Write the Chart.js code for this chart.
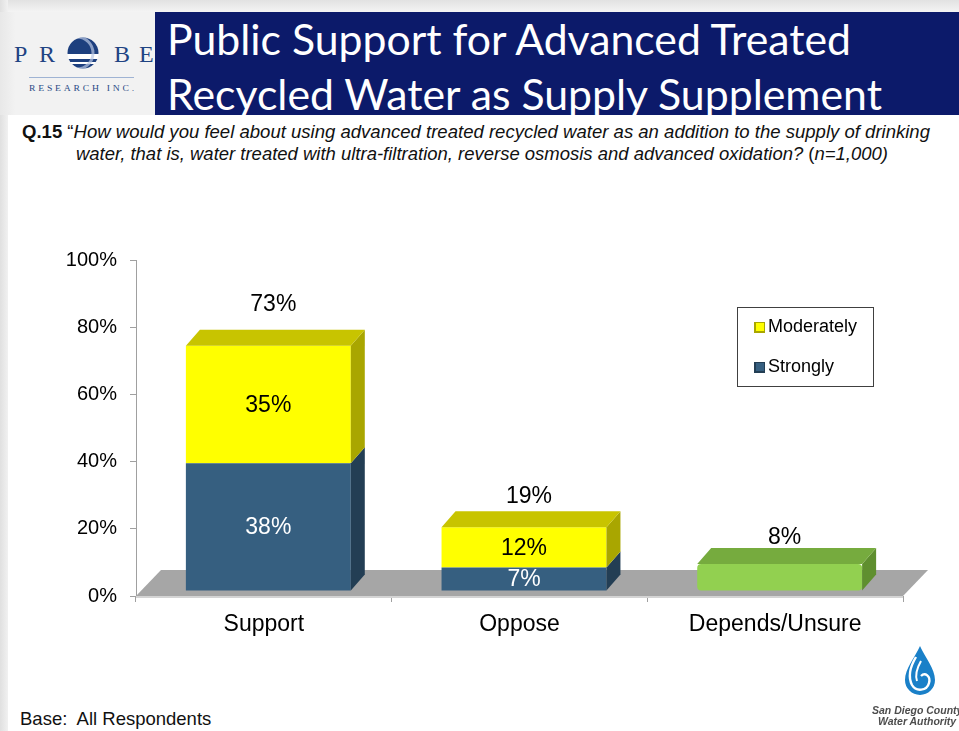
<!DOCTYPE html>
<html>
<head>
<meta charset="utf-8">
<title>Public Support for Advanced Treated Recycled Water</title>
<script src="https://cdn.jsdelivr.net/npm/chart.js@4.4.1/dist/chart.umd.min.js"></script>
<style>
  body { margin: 0; background: #fff; }
  #page { position: relative; width: 959px; height: 731px; overflow: hidden; background: #fff; font-family: "Liberation Sans", Arial, sans-serif; }
  .abs { position: absolute; white-space: nowrap; }
  #topShade { left: 0; top: 0; width: 959px; height: 12px; background: linear-gradient(#e2e2e2, #f4f4f4); }
  #leftShade { left: 0; top: 0; width: 8px; height: 731px; background: linear-gradient(to right, #e0e0e0, #f1f1f1); }
  #logoBox { left: 0; top: 12px; width: 155px; height: 103px; background: linear-gradient(to right, #e8e8e8, #f2f2f2 10%); }
  #titleBar { left: 155px; top: 12px; width: 804px; height: 103px; background: #0c1a6a; }
  .title { font-family: Lato, "Open Sans", sans-serif; font-size: 42px; line-height: 50px; color: #fff; transform-origin: 0 0; }
  .probe { font-family: "Liberation Serif", serif; font-size: 24px; line-height: 24px; color: #1f4483; }
  .q { font-size: 19px; line-height: 21px; color: #111; transform-origin: 0 0; }
  .sd { font-size: 10.5px; font-weight: bold; font-style: italic; color: #4d4d4d; line-height: 11px; }
</style>
</head>
<body>
<div id="page">
  <div class="abs" id="topShade"></div>
  <div class="abs" id="leftShade"></div>
  <div class="abs" id="logoBox"></div>
  <div class="abs" id="titleBar"></div>

  <!-- probe logo -->
  <div class="abs probe" style="left:14px;top:42px">P</div>
  <div class="abs probe" style="left:39px;top:42px">R</div>
  <div class="abs probe" style="left:114px;top:42px">B</div>
  <div class="abs probe" style="left:139px;top:42px">E</div>
  <svg class="abs" style="left:67px;top:37px" width="33" height="33" viewBox="0 0 33 33">
    <defs><clipPath id="cc"><circle cx="16" cy="16" r="15.5"/></clipPath></defs>
    <g clip-path="url(#cc)">
      <rect x="0" y="0" width="33" height="33" fill="#ffffff"/>
      <rect x="0" y="0" width="33" height="17" fill="#1d3f7e"/>
      <rect x="0" y="22" width="33" height="3" fill="#1d3f7e"/>
      <rect x="0" y="27" width="33" height="7" fill="#1d3f7e"/>
      <circle cx="10" cy="16" r="16" fill="none" stroke="#b9c8e4" stroke-width="3" opacity="0.7"/>
    </g>
  </svg>
  <div class="abs" style="left:29px;top:77px;width:105px;height:1px;background:#9fb3d3"></div>
  <div class="abs" id="probeSub" style="left:29px;top:83px;font-family:'Liberation Serif',serif;font-size:9px;letter-spacing:2.6px;color:#2a4a85;transform-origin:0 0">RESEARCH INC.</div>

  <!-- title -->
  <div class="abs title" id="t1" style="left:167px;top:14px">Public Support for Advanced Treated</div>
  <div class="abs title" id="t2" style="left:167px;top:69px">Recycled Water as Supply Supplement</div>

  <!-- question -->
  <div class="abs q" id="q1" style="left:22px;top:121px"><b>Q.15</b> “<i>How would you feel about using advanced treated recycled water as an addition to the supply of drinking</i></div>
  <div class="abs q" id="q2" style="left:76px;top:143px"><i>water, that is, water treated with ultra-filtration, reverse osmosis and advanced oxidation?</i> (<i>n=1,000)</i></div>

  <!-- chart -->
  <div class="abs" style="left:0;top:180px;width:959px;height:500px">
    <canvas id="myChart" width="959" height="500"></canvas>
  </div>

  <!-- footer -->
  <div class="abs" id="base" style="left:20px;top:708px;font-size:18.5px;color:#111">Base:&nbsp; All Respondents</div>

  <!-- water authority logo -->
  <svg class="abs" style="left:903px;top:645px" width="34" height="52" viewBox="0 0 34 52">
    <path d="M17 1 C 12 12, 2 24, 2 35 A 15 15 0 0 0 32 35 C 32 24, 22 12, 17 1 Z" fill="#1a80c8"/>
    <path d="M13 12 C 7 22, 5 32, 9 40 C 13 47, 24 46, 26 38 C 28 31, 22 27, 18 31" fill="none" stroke="#fff" stroke-width="2.4"/>
    <path d="M18 16 C 14 23, 12 30, 14 36" fill="none" stroke="#fff" stroke-width="2"/>
  </svg>
  <div class="abs sd" style="left:872px;top:705px">San Diego County</div>
  <div class="abs sd" style="left:878px;top:716px">Water Authority</div>
</div>

<script>
// chart data
var categories = ["Support", "Oppose", "Depends/Unsure"];
var strongly = [38, 7, null];
var moderately = [35, 12, null];
var dependsUnsure = [null, null, 8];
var totals = [73, 19, 8];
var yTicks = [0, 20, 40, 60, 80, 100];
var legendLabels = ["Moderately", "Strongly"];

// squeeze a text line to the width it has on the slide
function fitWidth(id, w) {
    var el = document.getElementById(id);
    var r = w / el.getBoundingClientRect().width;
    el.style.transform = "scaleX(" + r + ")";
}
fitWidth("t1", 684);
fitWidth("t2", 715);
fitWidth("q1", 908);
fitWidth("q2", 812);
fitWidth("probeSub", 108);

// 3D look: front faces sit a bit inside the floor, side and top faces added by hand
var SHIFT_X = 4.5, SHIFT_Y = -5;
var DEPTH_X = 14, DEPTH_Y = 16;
var FLOOR_X = 25, FLOOR_Y = 26;
var LABEL_FONT = '23px "Liberation Sans", Arial, sans-serif';

function poly(ctx, pts) {
    ctx.beginPath();
    ctx.moveTo(pts[0][0], pts[0][1]);
    for (var k = 1; k < pts.length; k++) ctx.lineTo(pts[k][0], pts[k][1]);
    ctx.closePath();
    ctx.fill();
}

function topIndex(chart, i) {
    var top = -1;
    chart.data.datasets.forEach(function(ds, d) {
        if (ds.data[i] != null) top = d;
    });
    return top;
}

var bars3d = {
    id: "bars3d",
    beforeDatasetsDraw: function(chart) {
        var ctx = chart.ctx, a = chart.chartArea;
        ctx.save();
        ctx.fillStyle = "#a6a6a6";
        poly(ctx, [[a.left, a.bottom], [a.left + FLOOR_X, a.bottom - FLOOR_Y],
                   [a.right + FLOOR_X, a.bottom - FLOOR_Y], [a.right, a.bottom]]);
        ctx.fillStyle = "#d4d4d4";
        ctx.fillRect(a.left, a.bottom, a.right - a.left, 2);
        ctx.restore();
        ctx.save();
        ctx.translate(SHIFT_X, SHIFT_Y);
    },
    afterDatasetsDraw: function(chart, args, opts) {
        var ctx = chart.ctx;
        chart.data.datasets.forEach(function(ds, d) {
            var meta = chart.getDatasetMeta(d);
            meta.data.forEach(function(bar, i) {
                if (ds.data[i] == null) return;
                var p = bar.getProps(["x", "y", "base", "width"], true);
                var l = p.x - p.width / 2, r = p.x + p.width / 2;
                ctx.fillStyle = ds.sideColor;
                poly(ctx, [[r, p.y], [r + DEPTH_X, p.y - DEPTH_Y], [r + DEPTH_X, p.base - DEPTH_Y], [r, p.base]]);
                if (topIndex(chart, i) == d) {
                    ctx.fillStyle = ds.topColor;
                    poly(ctx, [[l, p.y], [l + DEPTH_X, p.y - DEPTH_Y], [r + DEPTH_X, p.y - DEPTH_Y], [r, p.y]]);
                }
            });
        });

        // value labels
        ctx.font = LABEL_FONT;
        ctx.textAlign = "center";
        ctx.textBaseline = "middle";
        chart.data.datasets.forEach(function(ds, d) {
            if (!ds.showInside) return;
            chart.getDatasetMeta(d).data.forEach(function(bar, i) {
                if (ds.data[i] == null) return;
                var p = bar.getProps(["x", "y", "base"], true);
                ctx.fillStyle = ds.labelColor;
                ctx.fillText(ds.data[i] + "%", p.x, (p.y + p.base) / 2 + 1);
            });
        });
        totals.forEach(function(t, i) {
            var d = topIndex(chart, i);
            var p = chart.getDatasetMeta(d).data[i].getProps(["x", "y"], true);
            ctx.fillStyle = "#000";
            ctx.fillText(t + "%", p.x + 5, p.y - DEPTH_Y - opts.totalGaps[i]);
        });
        ctx.restore();
    },
    afterDraw: function(chart) {
        // legend box (only the two support shades)
        var ctx = chart.ctx, a = chart.chartArea;
        var bx = a.right - 166, by = a.top + 47;
        ctx.save();
        ctx.fillStyle = "#fff";
        ctx.fillRect(bx, by, 136, 79);
        ctx.strokeStyle = "#404040";
        ctx.lineWidth = 1;
        ctx.strokeRect(bx + 0.5, by + 0.5, 136, 79);
        var sets = [chart.data.datasets[1], chart.data.datasets[0]];
        ctx.font = '18px "Liberation Sans", Arial, sans-serif';
        ctx.textAlign = "left";
        ctx.textBaseline = "middle";
        legendLabels.forEach(function(lab, k) {
            var cy = by + 20 + k * 40;
            ctx.fillStyle = sets[k].sideColor;
            ctx.fillRect(bx + 17, cy - 5, 11, 11);
            ctx.fillStyle = sets[k].backgroundColor;
            ctx.fillRect(bx + 19, cy - 4, 8, 8);
            ctx.fillStyle = "#000";
            ctx.fillText(lab, bx + 31, cy);
        });
        ctx.restore();
    }
};

var ctx = document.getElementById("myChart").getContext("2d");
var myChart = new Chart(ctx, {
    type: "bar",
    data: {
        labels: categories,
        datasets: [
            { label: "Strongly", data: strongly, backgroundColor: "#365f80", sideColor: "#233e54", topColor: "#2e5370",
              labelColor: "#fff", showInside: true },
            { label: "Moderately", data: moderately, backgroundColor: "#ffff00", sideColor: "#a9a600", topColor: "#c8c400",
              labelColor: "#000", showInside: true },
            { label: "Depends/Unsure", data: dependsUnsure, backgroundColor: "#92d050", sideColor: "#5f8f2f", topColor: "#76ab3e",
              borderRadius: 4, borderSkipped: false, showInside: false }
        ]
    },
    options: {
        responsive: false,
        animation: false,
        datasets: { bar: { barPercentage: 0.645, categoryPercentage: 1 } },
        layout: { padding: { top: 80, right: 56, left: 0, bottom: 0 } },
        plugins: {
            legend: { display: false },
            tooltip: { enabled: false },
            bars3d: { totalGaps: [25, 15, 10] }
        },
        scales: {
            x: {
                stacked: true,
                grid: { offset: true, drawOnChartArea: false, tickLength: 6, color: "#a0a0a0" },
                border: { color: "#a0a0a0" },
                ticks: { color: "#000", padding: 9, font: { family: "Liberation Sans", size: 23 } },
                afterFit: function(s) { s.height = 84; }
            },
            y: {
                stacked: true,
                min: 0,
                max: 100,
                grid: { drawOnChartArea: false, tickLength: 6, color: "#a0a0a0" },
                border: { color: "#a0a0a0" },
                ticks: { color: "#000", padding: 13, font: { family: "Liberation Sans", size: 20 },
                         callback: function(v) { return v + "%"; } },
                afterBuildTicks: function(s) { s.ticks = yTicks.map(function(v) { return { value: v }; }); },
                afterFit: function(s) { s.width = 136; }
            }
        }
    },
    plugins: [bars3d]
});
</script>
</body>
</html>
